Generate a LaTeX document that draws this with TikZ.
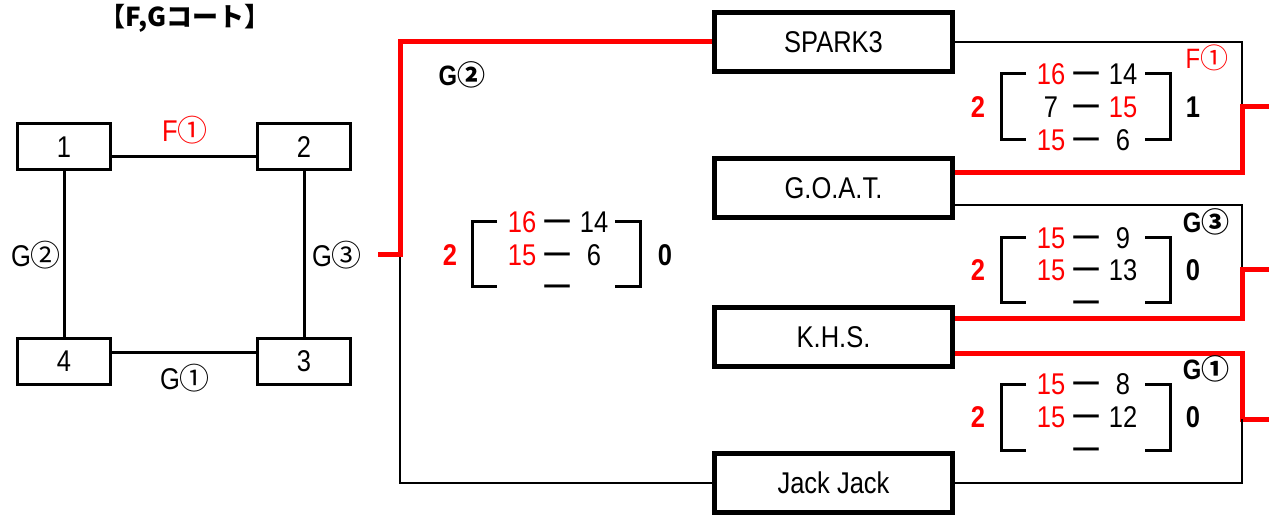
\documentclass[tikz,border=0pt]{standalone}
\usepackage{fontspec}
\setmainfont{Liberation Sans}[FakeStretch=0.85]
\newfontfamily\jp{Noto Sans CJK JP}
\usepackage{xcolor}
\usetikzlibrary{calc}

% one score row: name, x of left score, y, left, right
\newcommand{\scorerow}[5]{%
  \node[score] (#1l) at (#2,#3) {#4};
  \node[score] (#1d) at (#2+35,#3) {\raisebox{1.6pt}{\bfseries —}};
  \node[score] (#1r) at (#2+72,#3) {#5};}
% square brackets round the rows: x left, x right, y top, y bottom
\newcommand{\scorebracket}[4]{%
  \draw[brk] (#1+25,#3) -- (#1,#3) -- (#1,#4) -- (#1+25,#4);
  \draw[brk] (#2-25,#3) -- (#2,#3) -- (#2,#4) -- (#2-25,#4);}

\begin{document}
\begin{tikzpicture}[x=0.5pt, y=-0.5pt,
  every node/.style={font=\fontsize{15}{18}\selectfont, inner sep=0pt},
  team/.style={draw, line width=2.5pt, minimum width=119pt, minimum height=29.5pt},
  court/.style={draw, line width=1.5pt, minimum width=46.5pt, minimum height=23pt},
  conn/.style={line width=1.25pt},
  win/.style={red, line width=2.5pt},
  brk/.style={line width=1.5pt},
  score/.style={text height=10.8pt, text depth=0pt},
  res/.style={score, font=\fontsize{15}{18}\selectfont\bfseries},
  lbl/.style={font=\fontsize{14}{16}\selectfont\bfseries}]
\useasboundingbox (0,0) rectangle (1269,518);
% Title
\node[font=\jp\bfseries\fontsize{13}{15}\selectfont] (title) at (185,18) {【F,Gコート】};
% Courts
\node[court] (c1) at (64,147) {1};
\node[court] (c2) at (304,147) {2};
\node[court] (c3) at (304,361) {3};
\node[court] (c4) at (64,361) {4};
\draw[brk] ($(c1.east)+(0,10)$) -- ($(c2.west)+(0,10)$);
\draw[brk] ($(c4.east)+(0,-9)$) -- ($(c3.west)+(0,-9)$);
\draw[brk] (c1.south) -- (c4.north);
\draw[brk] (c2.south) -- (c3.north);
\node[red] (cF1) at (185,130) {F{\jp ①}};
\node (cG1) at (185,378) {G{\jp ①}};
\node (cG2) at (36,255) {G{\jp ②}};
\node (cG3) at (337,255) {G{\jp ③}};
% Teams
\node[team] (spark) at (833.5,42) {SPARK3};
\node[team] (goat) at (833.5,188) {G.O.A.T.};
\node[team] (khs) at (833.5,337) {K.H.S.};
\node[team] (jack) at (833.5,483) {Jack Jack};
% Match points
\coordinate (G2in) at (400,255);
\coordinate (G2out) at (378,255);
\coordinate (F1in) at (1242,107);
\coordinate (F1out) at (1269,107);
\coordinate (G3in) at (1242,270);
\coordinate (G3out) at (1269,270);
\coordinate (G1in) at (1242,419);
\coordinate (G1out) at (1269,419);
% G2: SPARK3 - Jack Jack
\draw[conn] (jack.west) -| (G2in);
\draw[win] (spark.west) -| (G2in) -- (G2out);
\node[lbl] (mG2) at (462,75) {G{\jp ②}};
\node[res, red] (G2a) at (450,255) {2};
\node[res] (G2b) at (665,255) {0};
\scorebracket{472}{640}{222}{287}
\scorerow{G2x}{522}{222}{\color{red}16}{14}
\scorerow{G2y}{522}{255}{\color{red}15}{6}
\scorerow{G2z}{522}{287}{}{}
% F1: SPARK3 - G.O.A.T.
\draw[conn] (spark.east) -| (F1in);
\draw[win] ($(goat.east)+(0,-15)$) -| (F1in) -- (F1out);
\node[font=\fontsize{14}{16}\selectfont, red] (mF1) at (1207,58) {F{\jp ①}};
\node[res, red] (F1a) at (978,107) {2};
\node[res] (F1b) at (1193,107) {1};
\scorebracket{1001}{1170}{74}{140}
\scorerow{F1x}{1051}{74}{\color{red}16}{14}
\scorerow{F1y}{1051}{107}{7}{\color{red}15}
\scorerow{F1z}{1051}{140}{\color{red}15}{6}
% G3: G.O.A.T. - K.H.S.
\draw[conn] ($(goat.east)+(0,17)$) -| (G3in);
\draw[win] ($(khs.east)+(0,-18)$) -| (G3in) -- (G3out);
\node[lbl] (mG3) at (1206,222) {G{\jp ③}};
\node[res, red] (G3a) at (978,270) {2};
\node[res] (G3b) at (1193,270) {0};
\scorebracket{1001}{1170}{238}{303}
\scorerow{G3x}{1051}{238}{\color{red}15}{9}
\scorerow{G3y}{1051}{270}{\color{red}15}{13}
\scorerow{G3z}{1051}{303}{}{}
% G1: K.H.S. - Jack Jack
\draw[win] ($(khs.east)+(0,16)$) -| (G1in) -- (G1out);
\draw[conn] (jack.east) -| (G1in);
\node[lbl] (mG1) at (1206,369) {G{\jp ①}};
\node[res, red] (G1a) at (978,417) {2};
\node[res] (G1b) at (1193,417) {0};
\scorebracket{1001}{1170}{384}{450}
\scorerow{G1x}{1051}{384}{\color{red}15}{8}
\scorerow{G1y}{1051}{417}{\color{red}15}{12}
\scorerow{G1z}{1051}{450}{}{}
\end{tikzpicture}
\end{document}
